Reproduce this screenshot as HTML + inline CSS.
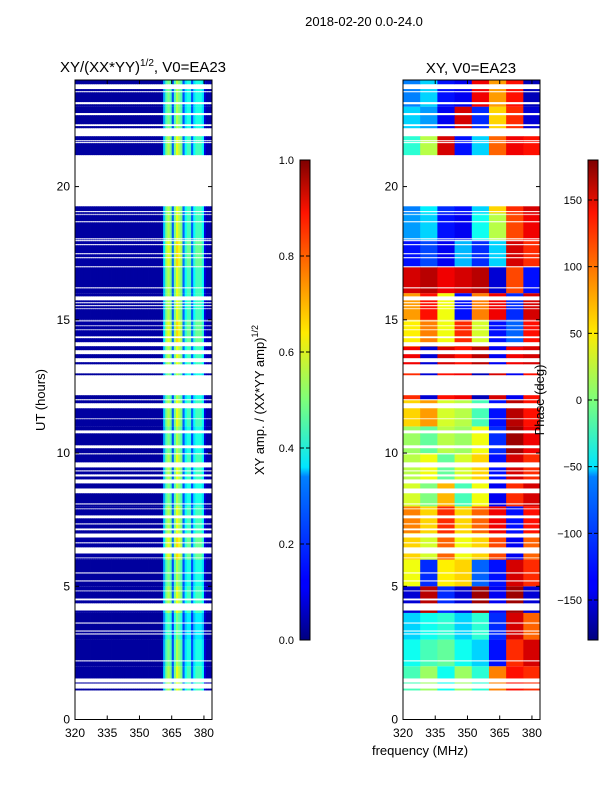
<!DOCTYPE html>
<html><head><meta charset="utf-8">
<style>
body{margin:0;background:#fff;}
svg{display:block;font-family:"Liberation Sans",sans-serif;}
</style></head>
<body>
<svg id="chart" width="600" height="800" viewBox="0 0 600 800" xmlns="http://www.w3.org/2000/svg">
<rect width="600" height="800" fill="#fff"/>
<text x="364" y="26" font-size="13" text-anchor="middle">2018-02-20 0.0-24.0</text>
<text x="143" y="72" font-size="15" text-anchor="middle">XY/(XX*YY)<tspan font-size="10" dy="-6">1/2</tspan><tspan dy="6">, V0=EA23</tspan></text>
<text x="471" y="73" font-size="15" text-anchor="middle">XY, V0=EA23</text>
<text transform="translate(45,400) rotate(-90)" font-size="13" text-anchor="middle">UT (hours)</text>
<text x="420" y="755" font-size="13" text-anchor="middle">frequency (MHz)</text>
<text transform="translate(264,400) rotate(-90)" font-size="13" text-anchor="middle">XY amp. / (XX*YY amp)<tspan font-size="9" dy="-6">1/2</tspan></text>
<g id="left"></g>
<g id="right"></g>
<text transform="translate(544,400) rotate(-90)" font-size="13" text-anchor="middle">Phase (deg)</text>
<defs>
<linearGradient id="jet" x1="0" y1="1" x2="0" y2="0">
<stop offset="0" stop-color="#00007f"/><stop offset="0.11" stop-color="#0000ff"/>
<stop offset="0.125" stop-color="#0000ff"/><stop offset="0.34" stop-color="#0080ff"/>
<stop offset="0.36" stop-color="#00e5ff"/><stop offset="0.5" stop-color="#7dff7a"/>
<stop offset="0.64" stop-color="#ffea00"/><stop offset="0.77" stop-color="#ff7a00"/>
<stop offset="0.89" stop-color="#ff1300"/><stop offset="1" stop-color="#7f0000"/>
</linearGradient>
</defs>
<g id="cb1"></g>
<g id="cb2"></g>
</svg>
<script>
// ---- data ----
const gaps = [[23.66,23.84],[23.54,23.58],[23.09,23.17],[22.68,22.76],[22.27,22.34],[21.89,22.19],[21.70,21.74],[21.63,21.67],[19.26,21.18],[19.04,19.08],[18.93,18.96],[18.66,18.70],[18.02,18.06],[17.95,17.99],[17.80,17.84],[17.46,17.50],[17.31,17.35],[16.97,17.01],[16.18,16.22],[15.73,15.88],[15.62,15.66],[15.51,15.55],[15.40,15.43],[14.94,14.98],[14.76,14.79],[14.61,14.64],[14.31,14.38],[14.01,14.16],[13.71,13.86],[13.41,13.56],[12.99,13.33],[12.17,12.92],[11.98,12.02],[11.68,11.87],[11.27,11.30],[10.74,10.85],[10.18,10.29],[9.95,9.99],[9.46,9.65],[9.31,9.35],[9.12,9.20],[8.86,9.01],[8.49,8.67],[8.07,8.11],[7.89,7.92],[7.55,7.66],[7.32,7.36],[7.10,7.17],[6.83,6.98],[6.61,6.65],[6.23,6.46],[6.05,6.08],[5.48,5.52],[5.18,5.22],[4.81,4.84],[4.47,4.54],[4.09,4.36],[3.60,3.64],[3.30,3.34],[3.19,3.23],[2.18,2.22],[1.39,1.54],[1.16,1.35],[0,1.09]];
const freqStart = 320;
// amplitude per 1 MHz bin, 320..383
const ampProfile = [0.03,0.03,0.03,0.03,0.03,0.03,0.03,0.03,0.03,0.03,0.03,0.03,0.03,0.03,0.03,0.03,
0.03,0.03,0.03,0.03,0.03,0.03,0.03,0.03,0.03,0.03,0.03,0.03,0.03,0.03,0.03,0.03,
0.03,0.03,0.03,0.03,0.03,0.03,0.03,0.03,0.04,0.3,0.45,0.5,0.45,0.2,0.45,0.55,
0.5,0.45,0.2,0.35,0.4,0.4,0.2,0.35,0.4,0.4,0.4,0.35,0.08,0.04,0.04,0.04];
const ampHourMod = [1,1.1,1.0,0.9,1.1,1.0,1.2,1.1,1.0,1.1,1.0,1.1,1.0,1.1,1.2,1.1,1.1,1.2,1.1,1.1,1,1.1,1.0,1.0];
// phase (deg), rows = hours 0..23, cols = 8 MHz bins 320..384
const phase = [
[0,0,0,0,0,0,0,0],
[-20,10,-40,10,-30,90,130,120],
[-40,-20,-10,-40,-60,-130,120,150],
[-60,-40,-30,-60,-30,-120,150,100],
[-150,160,-120,-150,170,-140,170,-150],
[40,-120,50,60,-100,-130,150,120],
[60,30,100,40,60,110,-140,100],
[90,60,120,60,100,140,-130,130],
[30,0,70,-20,40,-140,120,150],
[20,40,-10,30,60,-130,150,120],
[10,-10,20,10,40,-120,170,140],
[60,80,30,20,-20,-130,160,130],
[120,-150,130,140,-160,150,-140,130],
[140,-150,150,130,160,-140,140,150],
[50,90,40,120,30,-130,-100,130],
[80,130,40,-130,90,140,-120,150],
[150,160,140,150,160,-150,110,-130],
[-130,-110,-140,-70,-120,-60,150,120],
[-80,-60,-130,-140,-40,20,110,140],
[-90,-50,-120,-130,-60,60,120,150],
[0,0,0,0,0,0,0,0],
[-30,20,150,-130,-60,100,140,130],
[-60,-80,-140,150,-120,60,120,-150],
[-90,-60,-130,-140,140,80,130,-160]];
const yTicks = [0,5,10,15,20];
const xTicks = [320,335,350,365,380];
const ampTicks = [0.0,0.2,0.4,0.6,0.8,1.0];
const phaseTicks = [150,100,50,0,-50,-100,-150];

// ---- scales ----
const NS="http://www.w3.org/2000/svg";
const axT=80, axB=719.5, fMax=383.75;
function yS(h){return axB-(h/24)*(axB-axT);}
function xS(f,x0){return x0+(f-320)/(fMax-320)*137;}
function jet(v){v=Math.max(0,Math.min(1,v));
 function c(x){return Math.max(0,Math.min(1,x));}
 const r=c(1.5-Math.abs(4*v-3)),g=c(1.5-Math.abs(4*v-2)),b=c(1.5-Math.abs(4*v-1));
 return `rgb(${Math.round(r*255)},${Math.round(g*255)},${Math.round(b*255)})`;}
function mk(tag,attrs,parent){const e=document.createElementNS(NS,tag);for(const k in attrs)e.setAttribute(k,attrs[k]);parent.appendChild(e);return e;}

// data intervals
let segs=[[0,24]];
gaps.forEach(g=>{const n=[];segs.forEach(s=>{if(g[1]<=s[0]||g[0]>=s[1]){n.push(s);return;}
 if(g[0]>s[0])n.push([s[0],g[0]]);if(g[1]<s[1])n.push([g[1],s[1]]);});segs=n;});
let pieces=[];
segs.forEach(s=>{let a=s[0];while(a<s[1]-1e-6){const b=Math.min(s[1],Math.floor(a+1e-9)+1);pieces.push([a,b]);a=b;}});

const L=document.getElementById('left'),R=document.getElementById('right');
pieces.forEach(p=>{
 const h=Math.min(23,Math.floor(p[0]+1e-9));
 const y1=yS(p[1]),y2=yS(p[0]);
 for(let i=0;i<ampProfile.length;i++){
  const f=freqStart+i, x1=xS(f,75), x2=xS(Math.min(f+1,fMax),75);
  const r=mk('rect',{x:x1,y:y1,width:x2-x1+0.4,height:y2-y1,fill:jet(ampProfile[i]*ampHourMod[h])},L);
  
  
 }
 for(let c=0;c<8;c++){
  const f0=freqStart+c*8, x1=xS(f0,403), x2=xS(Math.min(f0+8,fMax),403);
  const r=mk('rect',{x:x1,y:y1,width:x2-x1+0.4,height:y2-y1,fill:jet((phase[h][c]+180)/360)},R);
  
  
 }
});

// axes frames & ticks
[[75,'left'],[403,'right']].forEach(([x0,nm])=>{
 const g=mk('g',{},document.getElementById('chart'));
 
 
 mk('rect',{x:x0,y:axT,width:137,height:axB-axT,fill:'none',stroke:'#000','stroke-width':1},g);
 yTicks.forEach(t=>{const y=yS(t);
  mk('line',{x1:x0,x2:x0+4,y1:y,y2:y,stroke:'#000'},g);
  mk('line',{x1:x0+137,x2:x0+133,y1:y,y2:y,stroke:'#000'},g);
  const tx=mk('text',{x:x0-5,y:y+4,'font-size':12,'text-anchor':'end'},g);tx.textContent=t;
  
  
 });
 xTicks.forEach(t=>{const x=xS(t,x0);
  mk('line',{x1:x,x2:x,y1:axB,y2:axB-4,stroke:'#000'},g);
  mk('line',{x1:x,x2:x,y1:axT,y2:axT+4,stroke:'#000'},g);
  const tx=mk('text',{x:x,y:737,'font-size':12,'text-anchor':'middle'},g);tx.textContent=t;
  
  
 });
});

// colorbars
function cbar(id,x0,ticks,toFrac,fmt){
 const g=document.getElementById(id);
 mk('rect',{x:x0,y:160,width:10,height:480,fill:'url(#jet)',stroke:'#000','stroke-width':1},g);
 ticks.forEach(t=>{const y=640-toFrac(t)*480;
  mk('line',{x1:x0,x2:x0+4,y1:y,y2:y,stroke:'#000'},g);
  mk('line',{x1:x0+10,x2:x0+6,y1:y,y2:y,stroke:'#000'},g);
  const tx=mk('text',{x:x0-6,y:y+4,'font-size':11,'text-anchor':'end'},g);tx.textContent=fmt(t);
  
  
 });
}
cbar('cb1',300,ampTicks,v=>v,v=>v.toFixed(1));
cbar('cb2',588,phaseTicks,v=>(v+180)/360,v=>v<0?'\u2212'+(-v):String(v));
</script>
</body></html>
